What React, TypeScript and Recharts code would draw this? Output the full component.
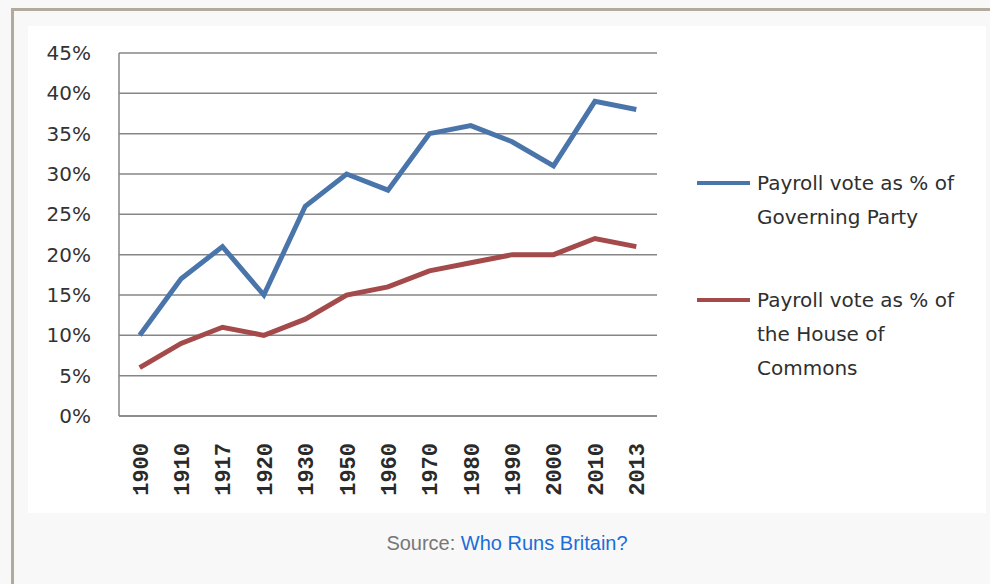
import React from 'react';
import { LineChart, Line, XAxis, YAxis, CartesianGrid, Legend } from 'recharts';

const years = ['1900', '1910', '1917', '1920', '1930', '1950', '1960', '1970', '1980', '1990', '2000', '2010', '2013'];
const governingParty = [10, 17, 21, 15, 26, 30, 28, 35, 36, 34, 31, 39, 38];
const houseOfCommons = [6, 9, 11, 10, 12, 15, 16, 18, 19, 20, 20, 22, 21];
const yTicks = [0, 5, 10, 15, 20, 25, 30, 35, 40, 45];
const seriesKeys = ['governing', 'commons'];
const seriesNames = ['Payroll vote as % of Governing Party', 'Payroll vote as % of the House of Commons'];
const legendLines = [
  ['Payroll vote as % of', 'Governing Party'],
  ['Payroll vote as % of', 'the House of', 'Commons'],
];
const colors = ['#4a75ab', '#a44a4a'];

const data = years.map((y, i) => ({ year: y, governing: governingParty[i], commons: houseOfCommons[i] }));

const LABEL_FONT = '"DejaVu Sans", Verdana, sans-serif';

const XTick = (props: any) => {
  const { x, y, payload } = props;
  return (
    <text
      x={x}
      y={y}
      transform={`rotate(-90 ${x} ${y})`}
      textAnchor="end"
      dy="0.36em"
      fontFamily='"Liberation Mono", "Courier New", monospace'
      fontSize={22}
      fontWeight="bold"
      fill="#2a2a2a"
    >
      {payload.value}
    </text>
  );
};

const renderLegend = () => (
  <div style={{ position: 'relative', width: 300, height: 260, fontFamily: LABEL_FONT, fontSize: 20, color: '#2f2f2f', lineHeight: '34px' }}>
    {legendLines.map((lines, i) => (
      <div key={seriesKeys[i]} style={{ position: 'absolute', left: 0, top: i === 0 ? 0 : 117, width: 300 }}>
        <svg width={54} height={34} style={{ position: 'absolute', left: 0, top: 0 }}>
          <line x1={0} y1={17} x2={53} y2={17} stroke={colors[i]} strokeWidth={4} />
        </svg>
        <div style={{ position: 'absolute', left: 60, top: 0, whiteSpace: 'nowrap' }}>
          {lines.map((l) => (
            <div key={l}>{l}</div>
          ))}
        </div>
      </div>
    ))}
  </div>
);

export default function App() {
  return (
    <div style={{ position: 'absolute', left: 0, top: 0, width: 990, height: 584, background: '#f8f8f8', overflow: 'hidden' }}>
      <div style={{ position: 'absolute', left: 11, top: 8, width: 979, height: 3, background: '#b3aa9e' }} />
      <div style={{ position: 'absolute', left: 11, top: 8, width: 3, height: 576, background: '#b3aa9e' }} />
      <div style={{ position: 'absolute', left: 28, top: 26, width: 958, height: 487, background: '#ffffff' }}>
        <LineChart width={958} height={487} data={data} margin={{ top: 27, right: 329, left: 0, bottom: 0 }}>
          <CartesianGrid vertical={false} stroke="#868686" strokeWidth={1.5} />
          <XAxis
            dataKey="year"
            interval={0}
            padding={{ left: 20.7, right: 20.7 }}
            height={97}
            tickLine={false}
            tickSize={0}
            tickMargin={27}
            axisLine={{ stroke: '#868686', strokeWidth: 1.5 }}
            tick={<XTick />}
          />
          <YAxis
            width={91}
            domain={[0, 45]}
            ticks={yTicks}
            interval={0}
            tickLine={false}
            tickSize={0}
            tickMargin={28}
            axisLine={{ stroke: '#868686', strokeWidth: 1.5 }}
            tickFormatter={(v: number) => `${v}%`}
            tick={{ fontFamily: LABEL_FONT, fontSize: 20, fill: '#333' }}
          />
          <Legend
            layout="horizontal"
            verticalAlign="middle"
            align="center"
            content={renderLegend}
            wrapperStyle={{ left: 669, top: 140, width: 300, height: 260 }}
          />
          <Line
            dataKey={seriesKeys[0]}
            name={seriesNames[0]}
            stroke={colors[0]}
            strokeWidth={5}
            dot={false}
            activeDot={false}
            isAnimationActive={false}
          />
          <Line
            dataKey={seriesKeys[1]}
            name={seriesNames[1]}
            stroke={colors[1]}
            strokeWidth={5}
            dot={false}
            activeDot={false}
            isAnimationActive={false}
          />
        </LineChart>
      </div>
      <div style={{ position: 'absolute', left: 28, top: 531, width: 958, textAlign: 'center', fontFamily: '"Liberation Sans", Arial, sans-serif', fontSize: 20, lineHeight: '24px' }}>
        <span style={{ color: '#777' }}>Source: </span>
        <span style={{ color: '#1a6ed8' }}>Who Runs Britain?</span>
      </div>
    </div>
  );
}
